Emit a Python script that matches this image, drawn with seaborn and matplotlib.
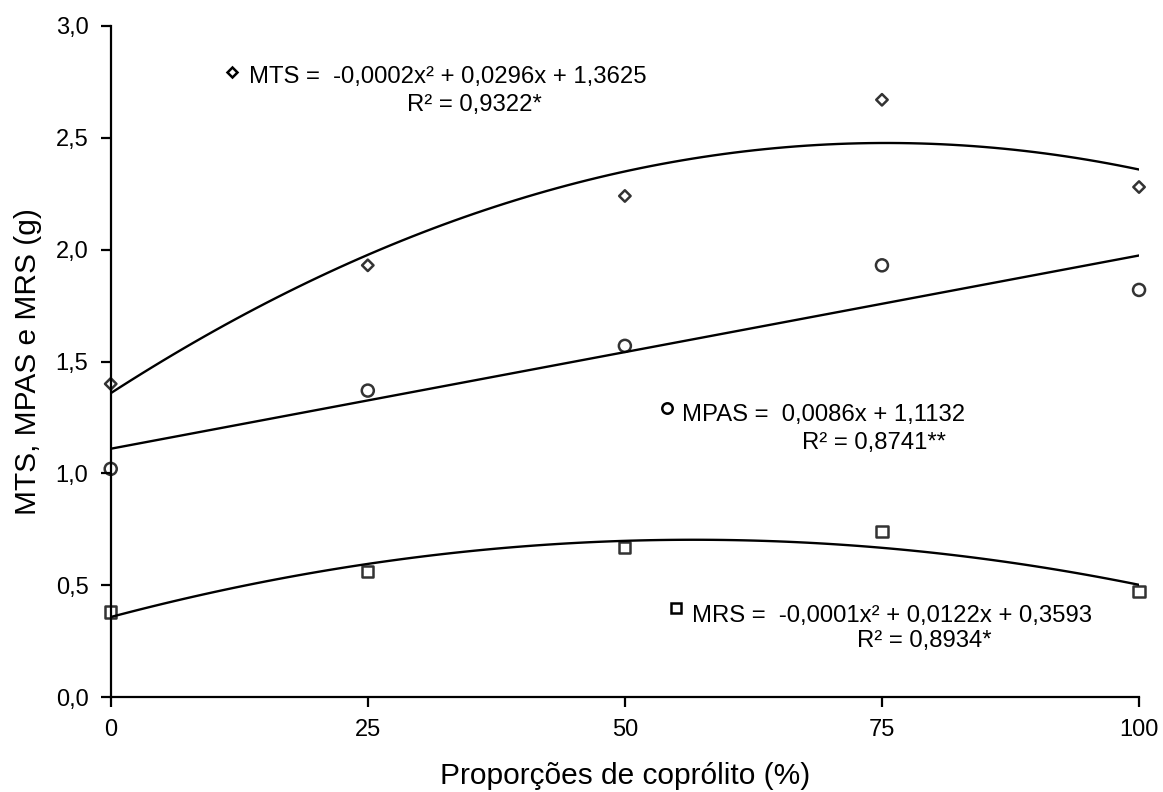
import numpy as np
import pandas as pd
import matplotlib
matplotlib.use("Agg")
import matplotlib.pyplot as plt
import seaborn as sns

# Data
proporcao = [0, 25, 50, 75, 100]
mts = [1.40, 1.93, 2.24, 2.67, 2.28]
mpas = [1.02, 1.37, 1.57, 1.93, 1.82]
mrs = [0.38, 0.56, 0.67, 0.74, 0.47]

x_ticks = [0, 25, 50, 75, 100]
y_ticks = [0.0, 0.5, 1.0, 1.5, 2.0, 2.5, 3.0]
y_tick_labels = ["0,0", "0,5", "1,0", "1,5", "2,0", "2,5", "3,0"]

eq_mts = "MTS =  -0,0002x² + 0,0296x + 1,3625"
r2_mts = "R² = 0,9322*"
eq_mpas = "MPAS =  0,0086x + 1,1132"
r2_mpas = "R² = 0,8741**"
eq_mrs = "MRS =  -0,0001x² + 0,0122x + 0,3593"
r2_mrs = "R² = 0,8934*"

xlabel = "Proporções de coprólito (%)"
ylabel = "MTS, MPAS e MRS (g)"

df = pd.DataFrame({"x": proporcao, "MTS": mts, "MPAS": mpas, "MRS": mrs})

sns.set_style("white")
plt.rcParams["font.family"] = ["Liberation Sans", "DejaVu Sans"]
plt.rcParams["text.color"] = "black"
plt.rcParams["axes.labelcolor"] = "black"
plt.rcParams["xtick.color"] = "black"
plt.rcParams["ytick.color"] = "black"

fig = plt.figure(figsize=(11.63, 7.92), dpi=100)
ax = fig.add_axes([0.0952, 0.1199, 0.8842, 0.8473])

line_kws = dict(color="black", lw=1.7)

sns.regplot(data=df, x="x", y="MTS", order=2, ci=None, ax=ax, marker="D",
            scatter_kws=dict(s=34, facecolors="none", edgecolors="black", linewidths=1.8,
                             zorder=3, clip_on=False),
            line_kws=line_kws, truncate=True)
sns.regplot(data=df, x="x", y="MPAS", order=1, ci=None, ax=ax, marker="o",
            scatter_kws=dict(s=75, facecolors="none", edgecolors="black", linewidths=1.8,
                             zorder=3, clip_on=False),
            line_kws=line_kws, truncate=True)
sns.regplot(data=df, x="x", y="MRS", order=2, ci=None, ax=ax, marker="s",
            scatter_kws=dict(s=64, facecolors="none", edgecolors="black", linewidths=1.8,
                             zorder=3, clip_on=False),
            line_kws=line_kws, truncate=True)

# equation keys and labels
fs_eq = 17.2
ax.plot([11.77], [2.795], marker="D", ms=5.5, mfc="none", mec="black", mew=1.8, ls="none")
ax.text(13.45, 2.743, eq_mts, fontsize=fs_eq, va="baseline", ha="left", color="black")
ax.text(28.81, 2.622, r2_mts, fontsize=fs_eq, va="baseline", ha="left", color="black")

ax.plot([54.07], [1.290], marker="o", ms=7.5, mfc="none", mec="black", mew=1.8, ls="none")
ax.text(55.53, 1.236, eq_mpas, fontsize=fs_eq, va="baseline", ha="left", color="black")
ax.text(67.2, 1.111, r2_mpas, fontsize=fs_eq, va="baseline", ha="left", color="black")

ax.plot([54.98], [0.396], marker="s", ms=7.5, mfc="none", mec="black", mew=1.8, ls="none")
ax.text(56.5, 0.337, eq_mrs, fontsize=fs_eq, va="baseline", ha="left", color="black")
ax.text(72.55, 0.222, r2_mrs, fontsize=fs_eq, va="baseline", ha="left", color="black")

ax.set_xlim(0, 100)
ax.set_ylim(0, 3.0)
ax.set_xticks(x_ticks)
ax.set_xticklabels([str(v) for v in x_ticks])
ax.set_yticks(y_ticks)
ax.set_yticklabels(y_tick_labels)

for side in ["top", "right"]:
    ax.spines[side].set_visible(False)
for side in ["left", "bottom"]:
    ax.spines[side].set_color("black")
    ax.spines[side].set_linewidth(1.6)

ax.tick_params(axis="both", which="major", direction="out", length=7, width=1.6,
               color="black", labelcolor="black", labelsize=17, pad=9, bottom=True, left=True)
ax.set_xlabel(xlabel, fontsize=21.5, color="black")
ax.set_ylabel(ylabel, fontsize=21.5, color="black")
ax.xaxis.set_label_coords(0.5, -0.097)
ax.yaxis.set_label_coords(-0.067, 0.5)
ax.grid(False)

fig.savefig("out.png", dpi=100)
